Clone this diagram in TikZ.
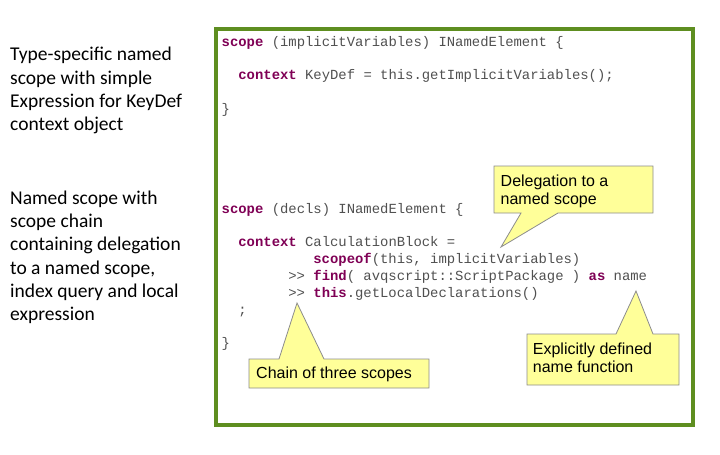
\documentclass[tikz,border=0pt]{standalone}
\usepackage{fontspec}
\setmainfont{Liberation Sans}
\setmonofont{Liberation Mono}
\newfontfamily\notefont{Carlito}
\definecolor{framegreen}{HTML}{5E8E20}
\definecolor{kwcolor}{HTML}{7F0055}
\definecolor{codegray}{HTML}{505050}
\definecolor{calloutfill}{HTML}{FFFF99}
\definecolor{calloutgray}{HTML}{8C8C8C}
\newcommand\kw[1]{{\bfseries\color{kwcolor}#1}}
\newcommand\codefont{\fontsize{13.9}{16.8}\selectfont\ttfamily}
\tikzset{
  codeline/.style={anchor=base west, inner sep=0pt, font=\codefont, text=codegray},
  notetext/.style={anchor=base west, inner sep=0pt, font=\notefont\fontsize{19.5}{23.3}\selectfont},
  calltext/.style={anchor=base west, inner sep=0pt, font=\fontsize{16}{18.4}\selectfont},
  calloutshape/.style={draw=calloutgray, fill=calloutfill, line width=0.8pt, line join=miter},
  codeframe/.style={draw=framegreen, line width=4pt}
}
\begin{document}
\begin{tikzpicture}[x=1pt,y=-1pt]
\useasboundingbox (0,0) rectangle (720,455);

% left descriptions
\node[notetext] (n1a) at (10,60.7) {Type-specific named};
\node[notetext] (n1b) at (10,84.0) {scope with simple};
\node[notetext] (n1c) at (10,107.3) {Expression for KeyDef};
\node[notetext] (n1d) at (10,130.6) {context object};

\node[notetext] (n2a) at (10,204.3) {Named scope with};
\node[notetext] (n2b) at (10,227.6) {scope chain};
\node[notetext] (n2c) at (10,250.9) {containing delegation};
\node[notetext] (n2d) at (10,274.2) {to a named scope,};
\node[notetext] (n2e) at (10,297.5) {index query and local};
\node[notetext] (n2f) at (10,320.8) {expression};

% frame
\draw[codeframe] (216,29) rectangle (693,425);

% code block 1
\node[codeline] (c1) at (221.5,46) {\kw{scope} (implicitVariables) INamedElement \{};
\node[codeline] (c2) at (238.2,79.6) {\kw{context} KeyDef = this.getImplicitVariables();};
\node[codeline] (c3) at (221.5,113.2) {\}};

% code block 2
\node[codeline] (d1) at (221.5,213.3) {\kw{scope} (decls) INamedElement \{};
\node[codeline] (d2) at (238.2,246.9) {\kw{context} CalculationBlock =};
\node[codeline] (d3) at (313.2,263.7) {\kw{scopeof}(this, implicitVariables)};
\node[codeline] (d4) at (288.2,280.5) {>{}> \kw{find}( avqscript::ScriptPackage ) \kw{as} name};
\node[codeline] (d5) at (288.2,297.3) {>{}> \kw{this}.getLocalDeclarations()};
\node[codeline] (d6) at (238.2,314.1) {;};
\node[codeline] (d7) at (221.5,347.7) {\}};

% callout 1
\draw[calloutshape] (494,166) -- (653,166) -- (653,213) -- (558,213) -- (501,247) -- (521,213) -- (494,213) -- cycle;
\node[calltext] (t1a) at (500.5,186) {Delegation to a};
\node[calltext] (t1b) at (500.5,204.5) {named scope};

% callout 2
\draw[calloutshape] (249,359) -- (279,359) -- (297,303) -- (324,359) -- (429,359) -- (429,388) -- (249,388) -- cycle;
\node[calltext] (t2) at (256,378.5) {Chain of three scopes};

% callout 3
\draw[calloutshape] (527,334) -- (616,334) -- (636,291) -- (653,334) -- (679,334) -- (679,385) -- (527,385) -- cycle;
\node[calltext] (t3a) at (532.7,354.3) {Explicitly defined};
\node[calltext] (t3b) at (532.7,372.7) {name function};
\end{tikzpicture}
\end{document}
